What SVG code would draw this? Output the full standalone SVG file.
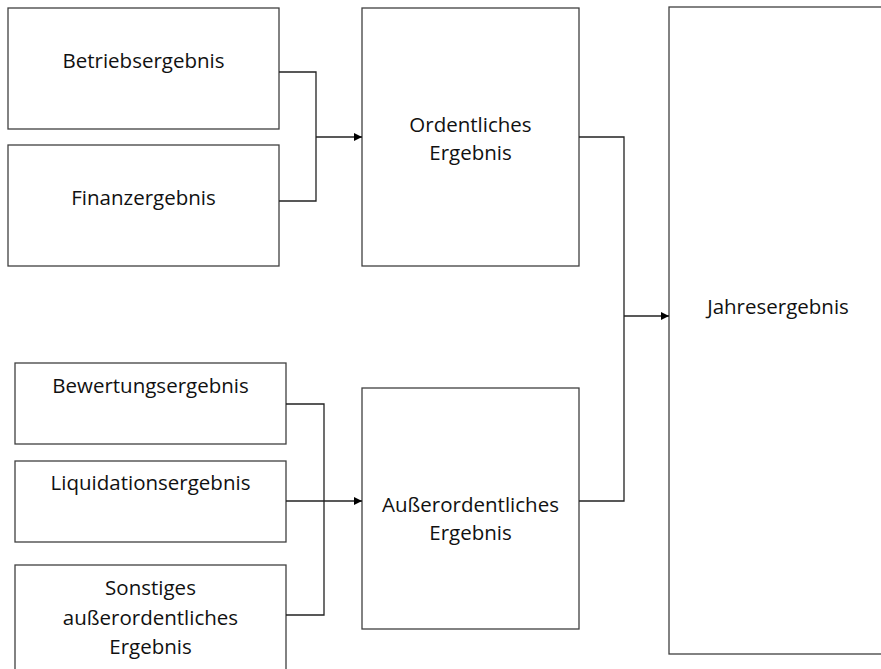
<svg xmlns="http://www.w3.org/2000/svg" width="881" height="669" viewBox="0 0 881 669">
<style>
.box{fill:#fff;stroke:#404040;stroke-width:1.3}
.lbl{font-family:"Open Sans","Noto Sans",sans-serif;font-size:20.5px;fill:#111;text-anchor:middle}
.con{fill:none;stroke:#222;stroke-width:1.3}
</style>
<defs>
<marker id="arr" viewBox="0 0 10 10" refX="10" refY="5" markerWidth="8" markerHeight="8" markerUnits="userSpaceOnUse" orient="auto">
<path d="M0,0 L10,5 L0,10 z" fill="#000"/>
</marker>
</defs>
<rect width="881" height="669" fill="#fff"/>
<g id="betriebsergebnis"><rect class="box" x="8" y="8" width="271" height="121"/><text class="lbl" x="143.5" y="68">Betriebsergebnis</text></g>
<g id="finanzergebnis"><rect class="box" x="8" y="145" width="271" height="121"/><text class="lbl" x="143.5" y="205">Finanzergebnis</text></g>
<g id="ordentliches"><rect class="box" x="362" y="8" width="217" height="258"/><text class="lbl" x="470.5" y="132">Ordentliches</text><text class="lbl" x="470.5" y="160">Ergebnis</text></g>
<g id="bewertungsergebnis"><rect class="box" x="15" y="363" width="271" height="81"/><text class="lbl" x="150.5" y="393">Bewertungsergebnis</text></g>
<g id="liquidationsergebnis"><rect class="box" x="15" y="461" width="271" height="81"/><text class="lbl" x="150.5" y="490">Liquidationsergebnis</text></g>
<g id="sonstiges"><rect class="box" x="15" y="565" width="271" height="130"/><text class="lbl" x="150.5" y="595">Sonstiges</text><text class="lbl" x="150.5" y="625">außerordentliches</text><text class="lbl" x="150.5" y="654">Ergebnis</text></g>
<g id="ausserordentliches"><rect class="box" x="362" y="388" width="217" height="241"/><text class="lbl" x="470.5" y="512">Außerordentliches</text><text class="lbl" x="470.5" y="540">Ergebnis</text></g>
<g id="jahresergebnis"><rect class="box" x="669" y="7" width="260" height="647"/><text class="lbl" x="778" y="314">Jahresergebnis</text></g>
<g id="connectors">
<path class="con" d="M279,72 H316 V201 H279"/>
<path class="con" d="M316,137 H362" marker-end="url(#arr)"/>
<path class="con" d="M579,137 H624 V501 H579"/>
<path class="con" d="M624,316 H669" marker-end="url(#arr)"/>
<path class="con" d="M286,404 H324 V615 H286"/>
<path class="con" d="M286,501 H362" marker-end="url(#arr)"/>
</g>
</svg>
